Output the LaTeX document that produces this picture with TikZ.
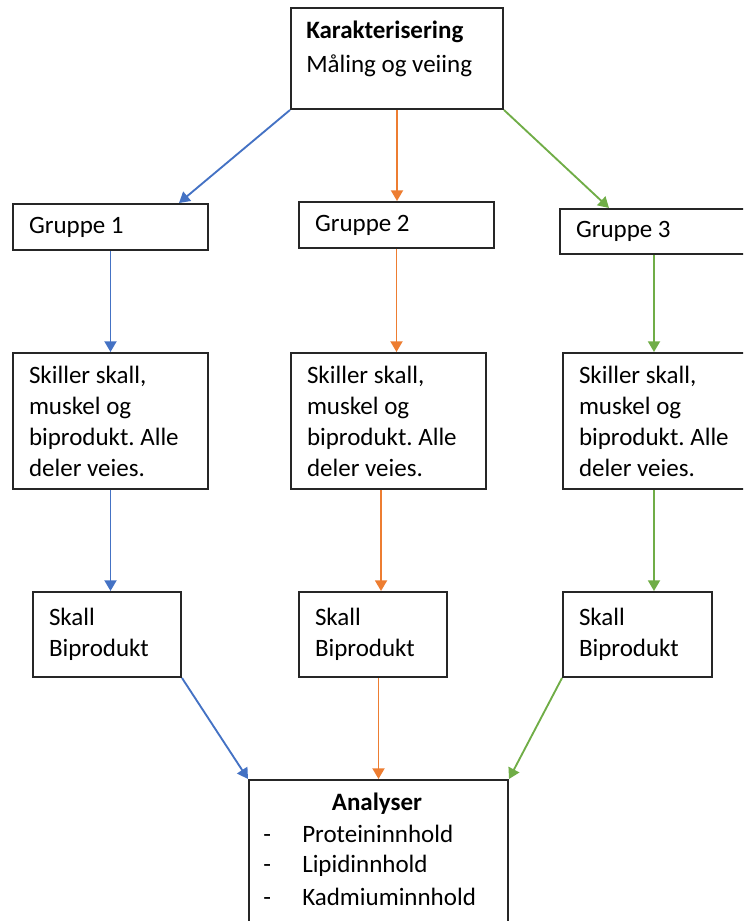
\documentclass[tikz,border=0pt]{standalone}
\usepackage{fontspec}
\setmainfont{Carlito}
\usetikzlibrary{arrows.meta}
\definecolor{cblue}{HTML}{4472C4}
\definecolor{corange}{HTML}{ED7D31}
\definecolor{cgreen}{HTML}{70AD47}
\newcommand{\bodyfont}{\fontsize{18.75pt}{23.25pt}\selectfont}
\tikzset{
  box/.style={draw=black!85, line width=1.5pt, rectangle, inner xsep=12pt, inner ysep=1pt, align=left, font=\bodyfont,
    execute at begin node={\frenchspacing\spaceskip=0pt\xspaceskip=0pt\relax}},
  plain/.style={inner sep=0pt, font=\bodyfont},
  arr/.style={line width=1.4pt, -{Triangle[length=8pt,width=9pt]}},
  barr/.style={arr, draw=cblue, fill=cblue},
  oarr/.style={arr, draw=corange, fill=corange},
  garr/.style={arr, draw=cgreen, fill=cgreen}
}
\begin{document}
\begin{tikzpicture}[x=0.75pt, y=-0.75pt]
\useasboundingbox (0,0) rectangle (743,921);
\clip (0,0) rectangle (743,921);
% top box
\node[box, minimum width=159pt, minimum height=75.75pt] (kbox) at (397,58.5) {};
\node[plain, anchor=base west] (kt1) at (306,38) {\bfseries Karakterisering};
\node[plain, anchor=base west] (kt2) at (306,72) {Måling og veiing};
% groups
\node[box, minimum width=146.25pt, minimum height=34.5pt, text width=122.25pt] (g1) at (110.5,227) {Gruppe 1};
\node[box, minimum width=146.25pt, minimum height=34.5pt, text width=122.25pt] (g2) at (396.5,225) {Gruppe 2};
\node[box, minimum width=141pt, minimum height=33.75pt, text width=117pt] (g3) at (654,231.5) {Gruppe 3};
% separation
\node[box, minimum width=146.25pt, minimum height=102pt, text width=122.25pt] (s1) at (110.5,421) {Skiller skall,\\muskel og\\biprodukt. Alle\\deler veies.};
\node[box, minimum width=146.25pt, minimum height=102pt, text width=122.25pt] (s2) at (388.5,421) {Skiller skall,\\muskel og\\biprodukt. Alle\\deler veies.};
\node[box, minimum width=142.5pt, minimum height=102pt, text width=118.5pt] (s3) at (658,421) {Skiller skall,\\muskel og\\biprodukt. Alle\\deler veies.};
% shell / byproduct
\node[box, minimum width=111pt, minimum height=63.75pt, text width=87pt] (k1) at (107,634.5) {Skall\\Biprodukt};
\node[box, minimum width=111pt, minimum height=63.75pt, text width=87pt] (k2) at (373,634.5) {Skall\\Biprodukt};
\node[box, minimum width=111.75pt, minimum height=63.75pt, text width=87.75pt] (k3) at (637.5,634.5) {Skall\\Biprodukt};
% analyses
\node[box, minimum width=194.25pt, minimum height=116.25pt] (an) at (378.5,857.5) {};
\node[plain, anchor=base] (at0) at (377,810) {\bfseries Analyser};
\node[plain, anchor=base west] (ad1) at (263,842) {-};
\node[plain, anchor=base west] (ad2) at (263,872) {-};
\node[plain, anchor=base west] (ad3) at (263,905) {-};
\node[plain, anchor=base west] (at1) at (302,842) {Proteininnhold};
\node[plain, anchor=base west] (at2) at (302,872) {Lipidinnhold};
\node[plain, anchor=base west] (at3) at (302,905) {Kadmiuminnhold};
% coordinates
\coordinate (g1in) at ([xshift=-22.5pt]g1.north east);
\coordinate (g3in) at ([xshift=37.5pt]g3.north west);
\coordinate (p3) at ([xshift=-3pt]s3.south);
\coordinate (o3) at ([xshift=-5.6pt]s2.south);
% connectors
\draw[barr] (kbox.south west) -- (g1in);
\draw[oarr] (kbox.south) -- (kbox.south |- g2.north);
\draw[garr] (kbox.south east) -- (g3in);
\draw[barr] (g1.south) -- (g1.south |- s1.north);
\draw[oarr] (g2.south) -- (g2.south |- s2.north);
\draw[garr] (g3.south) -- (g3.south |- s3.north);
\draw[barr] (s1.south) -- (s1.south |- k1.north);
\draw[oarr] (o3) -- (o3 |- k2.north);
\draw[garr] (p3) -- (p3 |- k3.north);
\draw[barr] (k1.south east) -- (an.north west);
\draw[oarr] (an.north |- k2.south) -- (an.north);
\draw[garr] (k3.south west) -- (an.north east);
\end{tikzpicture}
\end{document}
